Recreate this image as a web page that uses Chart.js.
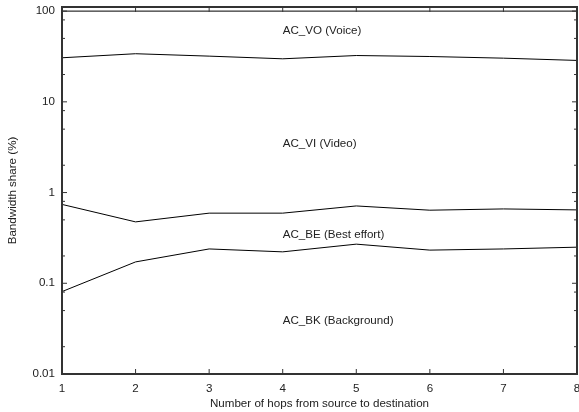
<!DOCTYPE html>
<html>
<head>
<meta charset="utf-8">
<script src="https://cdn.jsdelivr.net/npm/chart.js@4/dist/chart.umd.min.js"></script>
<style>
  html, body { margin: 0; padding: 0; background: #fff; }
  #wrap { width: 579px; height: 412px; }
</style>
</head>
<body>
<div id="wrap"><canvas id="c" width="579" height="412"></canvas></div>
<script>
// ---- data ----
const hops = [1, 2, 3, 4, 5, 6, 7, 8];
const totalShare = [100, 100, 100, 100, 100, 100, 100, 100];
const voiceLower = [30.6, 33.9, 31.9, 29.8, 32.4, 31.6, 30.3, 28.6];
const beUpper = [0.74, 0.475, 0.593, 0.593, 0.712, 0.639, 0.66, 0.644];
const bkUpper = [0.081, 0.172, 0.239, 0.222, 0.27, 0.232, 0.239, 0.25];

const xTicks = [1, 2, 3, 4, 5, 6, 7, 8];
const yTicks = [0.01, 0.1, 1, 10, 100];
const yMinorTicks = [0.02, 0.05, 0.08, 0.2, 0.5, 0.8, 2, 5, 8, 20, 50, 80];
const yTickLabels = ['0.01', '0.1', '1', '10', '100'];

const regionNames = ['AC_VO (Voice)', 'AC_VI (Video)', 'AC_BE (Best effort)', 'AC_BK (Background)'];
const regionLabelX = [4, 4, 4, 4];
const regionLabelY = [60, 3.45, 0.343, 0.039];

const FONT = '"Liberation Sans", Arial, Helvetica, sans-serif';
const FS = 11.6;
const TEXT = '#222';

function pts(arr) { return hops.map((h, i) => ({ x: h, y: arr[i] })); }

const frameAndTicks = {
  id: 'frameAndTicks',
  afterDatasetsDraw(chart) {
    const { ctx, chartArea: a, scales } = chart;
    const xs = scales.x, ys = scales.y;
    ctx.save();
    ctx.strokeStyle = '#333';
    ctx.lineWidth = 1;
    const tick = (x1, y1, x2, y2) => { ctx.beginPath(); ctx.moveTo(x1, y1); ctx.lineTo(x2, y2); ctx.stroke(); };
    yTicks.forEach(v => {
      const y = ys.getPixelForValue(v);
      tick(a.left, y, a.left + 5, y);
      tick(a.right, y, a.right - 5, y);
    });
    yMinorTicks.forEach(v => {
      const y = ys.getPixelForValue(v);
      tick(a.left, y, a.left + 3, y);
      tick(a.right, y, a.right - 3, y);
    });
    xTicks.forEach(v => {
      const x = xs.getPixelForValue(v);
      tick(x, a.bottom, x, a.bottom - 5);
      tick(x, a.top, x, a.top + 5);
    });
    ctx.lineWidth = 2;
    ctx.strokeRect(a.left, a.top, a.right - a.left, a.bottom - a.top);
    ctx.fillStyle = TEXT;
    ctx.font = FS + 'px ' + FONT;
    ctx.textAlign = 'left';
    ctx.textBaseline = 'middle';
    regionNames.forEach((t, i) => {
      ctx.fillText(t, xs.getPixelForValue(regionLabelX[i]), ys.getPixelForValue(regionLabelY[i]));
    });
    ctx.restore();
  }
};

const lineStyle = { borderColor: '#000', borderWidth: 1, pointRadius: 0, tension: 0, fill: false };

new Chart(document.getElementById('c'), {
  type: 'line',
  data: {
    datasets: [
      Object.assign({ label: 'Total', data: pts(totalShare) }, lineStyle),
      Object.assign({ label: 'AC_VO lower', data: pts(voiceLower) }, lineStyle),
      Object.assign({ label: 'AC_BE upper', data: pts(beUpper) }, lineStyle),
      Object.assign({ label: 'AC_BK upper', data: pts(bkUpper) }, lineStyle)
    ]
  },
  options: {
    responsive: false,
    animation: false,
    devicePixelRatio: 1,
    layout: { padding: { left: 0, right: 2, top: 7, bottom: 0 } },
    plugins: { legend: { display: false }, tooltip: { enabled: false } },
    scales: {
      x: {
        type: 'linear',
        min: 1, max: 8,
        grid: { display: false, drawTicks: false },
        border: { display: false },
        afterBuildTicks(s) { s.ticks = xTicks.map(v => ({ value: v })); },
        afterFit(s) { s.height = 38; s.paddingLeft = 0; s.paddingRight = 0; },
        ticks: { padding: 7.5, color: TEXT, font: { family: FONT, size: FS }, maxRotation: 0, autoSkip: false },
        title: { display: true, text: 'Number of hops from source to destination', color: TEXT,
                 font: { family: FONT, size: FS }, padding: { top: 0, bottom: 1 } }
      },
      y: {
        type: 'logarithmic',
        min: 0.01, max: 111,
        grid: { display: false, drawTicks: false },
        border: { display: false },
        afterBuildTicks(s) { s.ticks = yTicks.map(v => ({ value: v, major: true })); },
        afterFit(s) { s.width = 62; s.paddingTop = 0; s.paddingBottom = 0; },
        ticks: {
          padding: 7, color: TEXT, font: { family: FONT, size: FS }, autoSkip: false,
          callback(v) { const i = yTicks.indexOf(v); return i >= 0 ? yTickLabels[i] : ''; }
        },
        title: { display: true, text: 'Bandwidth share (%)', color: TEXT,
                 font: { family: FONT, size: FS }, padding: { top: 6, bottom: 0 } }
      }
    }
  },
  plugins: [frameAndTicks]
});
</script>
</body>
</html>
